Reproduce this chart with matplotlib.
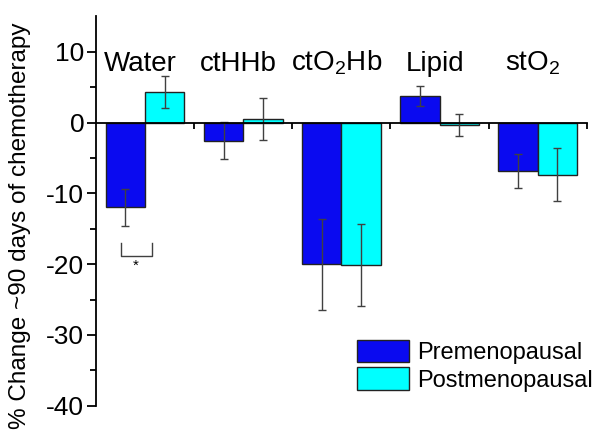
import matplotlib
matplotlib.use("Agg")
import matplotlib.pyplot as plt
import numpy as np

plt.rcParams['font.family'] = ['Liberation Sans', 'DejaVu Sans']
plt.rcParams['mathtext.fontset'] = 'custom'
plt.rcParams['mathtext.rm'] = 'Liberation Sans'
plt.rcParams['mathtext.default'] = 'regular'
plt.rcParams['axes.unicode_minus'] = False

# Data
categories = ['Water', 'ctHHb', 'ctO$_2$Hb', 'Lipid', 'stO$_2$']
pre_change = [-12.0, -2.55, -20.05, 3.75, -6.9]
pre_err = [2.65, 2.65, 6.45, 1.4, 2.4]
post_change = [4.3, 0.5, -20.1, -0.4, -7.35]
post_err = [2.2, 2.9, 5.75, 1.55, 3.7]
series_names = ['Premenopausal', 'Postmenopausal']

x = np.arange(len(categories))
width = 0.4

fig = plt.figure(figsize=(6, 4.41), dpi=100)
ax = fig.add_axes([0.16, 0.08, 0.818, 0.883])

ax.bar(x - width / 2, pre_change, width, color='#0a0af0', edgecolor='#222222',
       linewidth=1, label=series_names[0])
ax.bar(x + width / 2, post_change, width, color='#00ffff', edgecolor='#222222',
       linewidth=1, label=series_names[1])
ax.errorbar(x - width / 2, pre_change, yerr=pre_err, fmt='none', ecolor='#404040',
            elinewidth=1, capsize=2.9, capthick=1)
ax.errorbar(x + width / 2, post_change, yerr=post_err, fmt='none', ecolor='#404040',
            elinewidth=1, capsize=2.9, capthick=1)

# category names above the groups
for xi, name in zip(x, categories):
    ax.text(xi - 0.05, 7.3, name, ha='center', va='baseline', fontsize=20)

# significance bracket for water
ax.plot([-0.247, -0.247, 0.074, 0.074], [-17.0, -18.85, -18.85, -17.0],
        color='#404040', lw=1)
ax.text(-0.095, -20.2, '*', ha='center', va='center', fontsize=11)

ax.set_xlim(-0.5, 4.5)
ax.set_ylim(-40, 15)
ax.spines['top'].set_visible(False)
ax.spines['right'].set_visible(False)
ax.spines['bottom'].set_position(('data', 0))
ax.spines['left'].set_linewidth(1.3)
ax.spines['bottom'].set_linewidth(1.3)
ax.set_xticks(x + 0.5)
ax.set_xticklabels([])
ax.tick_params(axis='x', direction='out', length=4, width=1.3)
ax.set_yticks([10, 0, -10, -20, -30, -40])
ax.set_yticks([5, -5, -15, -25, -35], minor=True)
ax.tick_params(axis='y', which='major', direction='out', length=6.5, width=1.3,
               labelsize=19, pad=2)
ax.tick_params(axis='y', which='minor', direction='out', length=4.3, width=1.3)
ax.set_ylabel('% Change ~90 days of chemotherapy', fontsize=17.5)
ax.yaxis.set_label_coords(-0.132, 0.463)

ax.legend(loc='upper left', bbox_to_anchor=(0.531, 0.17), frameon=False,
          fontsize=17, handlelength=2.2, handleheight=1.1, handletextpad=0.38,
          labelspacing=0.15, borderpad=0, borderaxespad=0)

fig.savefig('out.png', dpi=100)
